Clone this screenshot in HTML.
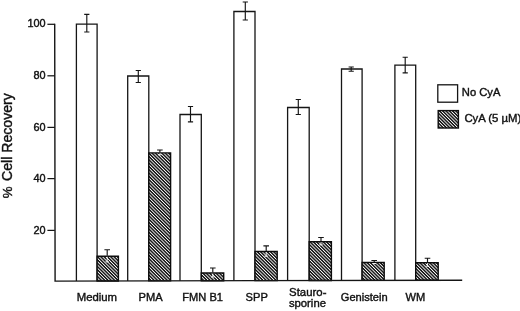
<!DOCTYPE html>
<html><head><meta charset="utf-8"><title>chart</title>
<style>
html,body{margin:0;padding:0;background:#fff;}
body{width:520px;height:311px;overflow:hidden;}
svg{display:block;}
text{font-family:"Liberation Sans",Arial,Helvetica,sans-serif;fill:#111;stroke:#111;stroke-width:0.4;}
</style></head><body>
<svg width="520" height="311" viewBox="0 0 520 311">
<defs>
<pattern id="h" width="2.33" height="2.33" patternUnits="userSpaceOnUse" patternTransform="rotate(45)">
<rect x="0" y="0" width="2.33" height="2.33" fill="#fff"/>
<rect x="0" y="0" width="2.33" height="1.43" fill="#0c0c0c"/>
</pattern>
</defs>
<rect x="0" y="0" width="520" height="311" fill="#fff"/>

<path d="M47.4 24.3 H54.8" stroke="#151515" stroke-width="1.25" fill="none"/>
<text x="45.6" y="27.0" font-size="10.9" text-anchor="end">100</text>
<path d="M47.4 75.8 H54.8" stroke="#151515" stroke-width="1.25" fill="none"/>
<text x="45.6" y="79.0" font-size="10.9" text-anchor="end">80</text>
<path d="M47.4 127.4 H54.8" stroke="#151515" stroke-width="1.25" fill="none"/>
<text x="45.6" y="130.8" font-size="10.9" text-anchor="end">60</text>
<path d="M47.4 178.6 H54.8" stroke="#151515" stroke-width="1.25" fill="none"/>
<text x="45.6" y="182.0" font-size="10.9" text-anchor="end">40</text>
<path d="M47.4 230.4 H54.8" stroke="#151515" stroke-width="1.25" fill="none"/>
<text x="45.6" y="233.8" font-size="10.9" text-anchor="end">20</text>
<path d="M76.4 281.05 V24.2 H97.1 V281.01" fill="#fff" stroke="#151515" stroke-width="1.3"/>
<path d="M97.1 281.01 V256.30 H118.40 V280.96 Z" fill="url(#h)" stroke="#0c0c0c" stroke-width="1.4"/>
<path d="M86.8 14.4 V32.0 M84.20 14.4 h5.2 M84.20 32.0 h5.2" stroke="#151515" stroke-width="1.15" fill="none"/>
<path d="M107.2 249.7 V255.8 M104.40 249.7 h5.6" stroke="#151515" stroke-width="1.15" fill="none"/>
<path d="M107.2 256.8 V261.90 M105.40 261.90 h3.6" stroke="#fff" stroke-opacity="0.9" stroke-width="1" fill="none"/>
<path d="M127.7 280.94 V76.0 H148.8 V280.89" fill="#fff" stroke="#151515" stroke-width="1.3"/>
<path d="M148.8 280.89 V152.90 H170.60 V280.84 Z" fill="url(#h)" stroke="#0c0c0c" stroke-width="1.4"/>
<path d="M138.3 70.5 V82.5 M135.70 70.5 h5.2 M135.70 82.5 h5.2" stroke="#151515" stroke-width="1.15" fill="none"/>
<path d="M159.9 150.0 V152.4 M157.10 150.0 h5.6" stroke="#151515" stroke-width="1.15" fill="none"/>
<path d="M159.9 153.4 V154.80 M158.10 154.80 h3.6" stroke="#fff" stroke-opacity="0.9" stroke-width="1" fill="none"/>
<path d="M180.0 280.82 V114.5 H201.3 V280.78" fill="#fff" stroke="#151515" stroke-width="1.3"/>
<path d="M201.3 280.78 V273.00 H223.70 V280.73 Z" fill="url(#h)" stroke="#0c0c0c" stroke-width="1.4"/>
<path d="M190.5 106.5 V121.8 M187.90 106.5 h5.2 M187.90 121.8 h5.2" stroke="#151515" stroke-width="1.15" fill="none"/>
<path d="M212.8 268.0 V272.5 M210.00 268.0 h5.6" stroke="#151515" stroke-width="1.15" fill="none"/>
<path d="M212.8 273.5 V277.00 M211.00 277.00 h3.6" stroke="#fff" stroke-opacity="0.9" stroke-width="1" fill="none"/>
<path d="M233.9 280.71 V11.5 H255.0 V280.66" fill="#fff" stroke="#151515" stroke-width="1.3"/>
<path d="M255.0 280.66 V251.50 H277.20 V280.61 Z" fill="url(#h)" stroke="#0c0c0c" stroke-width="1.4"/>
<path d="M245.3 2.0 V20.0 M242.70 2.0 h5.2 M242.70 20.0 h5.2" stroke="#151515" stroke-width="1.15" fill="none"/>
<path d="M266.2 245.8 V251.0 M263.40 245.8 h5.6" stroke="#151515" stroke-width="1.15" fill="none"/>
<path d="M266.2 252.0 V256.20 M264.40 256.20 h3.6" stroke="#fff" stroke-opacity="0.9" stroke-width="1" fill="none"/>
<path d="M287.6 280.59 V107.5 H309.2 V280.54" fill="#fff" stroke="#151515" stroke-width="1.3"/>
<path d="M309.2 280.54 V241.70 H331.40 V280.49 Z" fill="url(#h)" stroke="#0c0c0c" stroke-width="1.4"/>
<path d="M298.3 99.5 V114.5 M295.70 99.5 h5.2 M295.70 114.5 h5.2" stroke="#151515" stroke-width="1.15" fill="none"/>
<path d="M321.0 237.5 V241.2 M318.20 237.5 h5.6" stroke="#151515" stroke-width="1.15" fill="none"/>
<path d="M321.0 242.2 V244.90 M319.20 244.90 h3.6" stroke="#fff" stroke-opacity="0.9" stroke-width="1" fill="none"/>
<path d="M341.5 280.47 V69.0 H362.1 V280.42" fill="#fff" stroke="#151515" stroke-width="1.3"/>
<path d="M362.1 280.42 V262.50 H384.20 V280.37 Z" fill="url(#h)" stroke="#0c0c0c" stroke-width="1.4"/>
<path d="M351.2 67.0 V71.2 M348.60 67.0 h5.2 M348.60 71.2 h5.2" stroke="#151515" stroke-width="1.15" fill="none"/>
<path d="M374.2 260.5 V262.0 M371.40 260.5 h5.6" stroke="#151515" stroke-width="1.15" fill="none"/>
<path d="M374.2 263.0 V263.50 M372.40 263.50 h3.6" stroke="#fff" stroke-opacity="0.9" stroke-width="1" fill="none"/>
<path d="M394.9 280.35 V65.2 H415.7 V280.30" fill="#fff" stroke="#151515" stroke-width="1.3"/>
<path d="M415.7 280.30 V262.70 H438.20 V280.25 Z" fill="url(#h)" stroke="#0c0c0c" stroke-width="1.4"/>
<path d="M405.2 57.2 V72.8 M402.60 57.2 h5.2 M402.60 72.8 h5.2" stroke="#151515" stroke-width="1.15" fill="none"/>
<path d="M427.5 258.2 V262.2 M424.70 258.2 h5.6" stroke="#151515" stroke-width="1.15" fill="none"/>
<path d="M427.5 263.2 V266.20 M425.70 266.20 h3.6" stroke="#fff" stroke-opacity="0.9" stroke-width="1" fill="none"/>
<path d="M54.7 23.7 L55.1 281.1 L462.2 280.2" fill="none" stroke="#151515" stroke-width="1.4" stroke-linejoin="miter"/>
<text x="76.7" y="301" font-size="11.35">Medium</text>
<text x="138.6" y="301" font-size="11.1">PMA</text>
<text x="182.3" y="301" font-size="11.1">FMN B1</text>
<text x="245.6" y="301" font-size="11.1">SPP</text>
<text x="340.8" y="301" font-size="11.1">Genistein</text>
<text x="405.6" y="301" font-size="11.1">WM</text>
<text x="289.1" y="295.9" font-size="11.4">Stauro-</text>
<text x="288.9" y="307.1" font-size="11.3">sporine</text>
<text transform="translate(12.4,198.2) rotate(-90)" font-size="13.3">%</text>
<text transform="translate(12.4,180.9) rotate(-90)" font-size="14.1">Cell Recovery</text>
<rect x="437.8" y="84.8" width="19.8" height="17.4" fill="#fff" stroke="#151515" stroke-width="1.3"/>
<rect x="438.2" y="110.6" width="20.2" height="17.4" fill="url(#h)" stroke="#0c0c0c" stroke-width="1.4"/>
<text x="461.8" y="96.2" font-size="11.2">No CyA</text>
<text x="464.4" y="122.3" font-size="11.35">CyA (5 µM)</text>
</svg></body></html>
